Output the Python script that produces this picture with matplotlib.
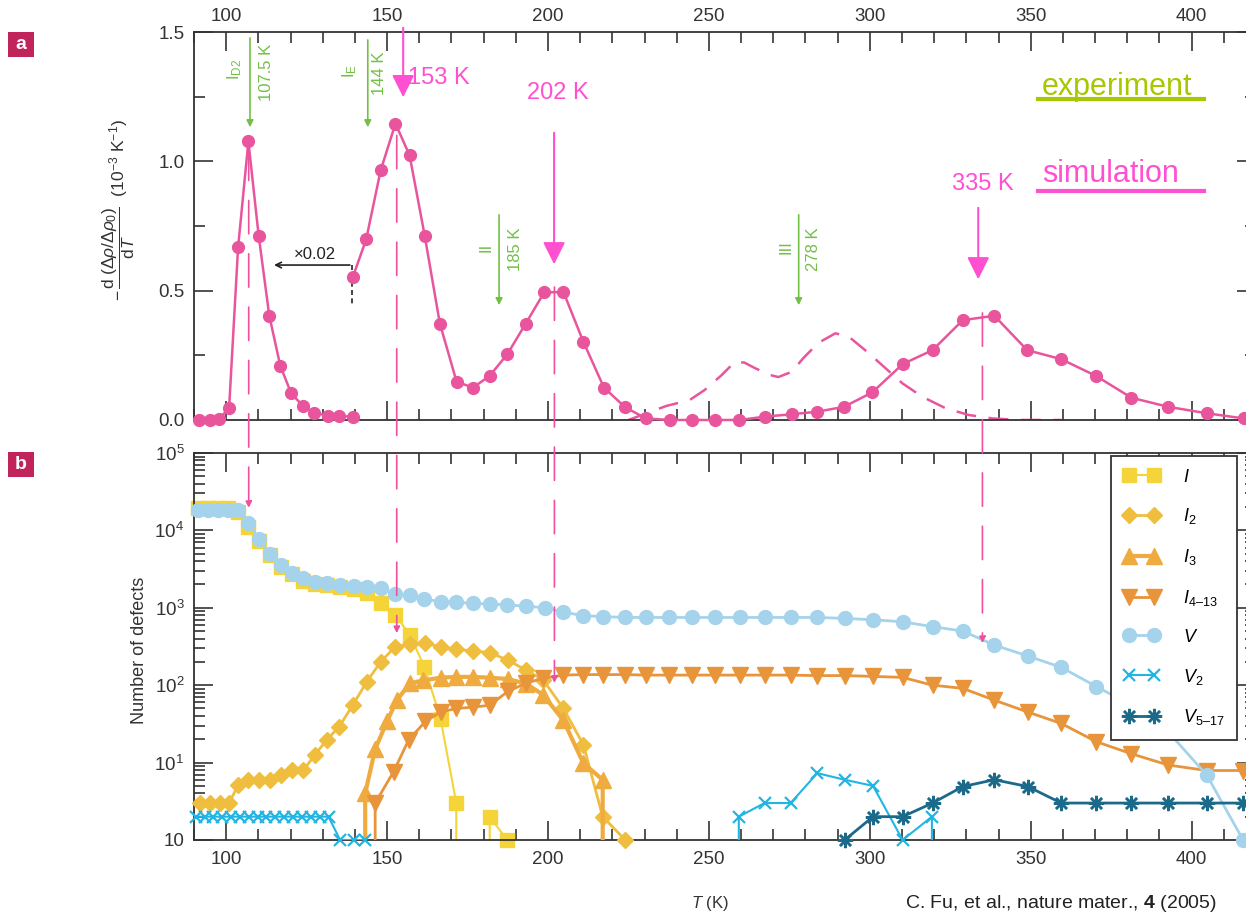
import numpy as np
import matplotlib
matplotlib.use("Agg")
import matplotlib.pyplot as plt
from matplotlib import font_manager
from matplotlib.patches import ConnectionPatch, Rectangle
from matplotlib.lines import Line2D
from matplotlib.ticker import MultipleLocator, FixedLocator, NullFormatter

# ---- panel a: simulated annealing rate, -d(drho/drho0)/dT ----
T_low = [91.6, 94.9, 97.8, 100.9, 103.7, 106.9, 110.1, 113.4, 116.8, 120.2,
         123.8, 127.4, 131.6, 135.2, 139.3]
rate_low = [0.0, 0.0, 0.005, 0.045, 0.667, 1.077, 0.712, 0.403, 0.21, 0.103,
            0.055, 0.028, 0.017, 0.015, 0.013]
T_high = [139.3, 143.5, 148.0, 152.6, 157.0, 161.7, 166.4, 171.6, 176.7, 181.9,
          187.4, 193.1, 198.8, 204.8, 211.0, 217.4, 224.0, 230.4, 237.8, 244.8,
          252.0, 259.5, 267.4, 275.7, 283.7, 292.0, 300.8, 310.2, 319.5, 328.9,
          338.7, 348.9, 359.5, 370.2, 381.3, 392.7, 404.7, 416.2]
rate_high = [0.551, 0.698, 0.965, 1.146, 1.023, 0.712, 0.373, 0.148, 0.125, 0.171,
             0.255, 0.373, 0.493, 0.495, 0.302, 0.125, 0.049, 0.006, 0.0, 0.0,
             0.0, 0.0, 0.013, 0.022, 0.032, 0.051, 0.107, 0.216, 0.27, 0.386,
             0.403, 0.27, 0.235, 0.171, 0.086, 0.051, 0.026, 0.006]
# dashed stage III curve
T_dash = [225, 236.7, 244, 248.7, 254, 258, 261, 264.4, 269, 271.6, 275.7, 279.4,
          284, 289.3, 293.5, 299.7, 304.9, 310.1, 316.3, 323.6, 330.9, 338.2,
          346.5, 359.5]
rate_dash = [0.0, 0.054, 0.077, 0.116, 0.174, 0.224, 0.222, 0.2, 0.174, 0.166,
             0.186, 0.24, 0.298, 0.335, 0.322, 0.258, 0.2, 0.142, 0.09, 0.045,
             0.019, 0.006, 0.0, 0.0]

# ---- panel b: number of defects ----
T_V = [91.3, 94.4, 97.5, 100.6, 103.7, 106.9, 110.3, 113.6, 116.9, 120.3, 124.0,
       127.6, 131.2, 135.4, 139.6, 143.7, 148.1, 152.5, 157.0, 161.6, 166.6, 171.5,
       176.7, 181.9, 187.3, 193.1, 199.1, 204.8, 211.0, 217.2, 224.0, 230.6, 237.5,
       244.8, 252.0, 259.6, 267.3, 275.4, 283.7, 292.2, 301.0, 310.2, 319.5, 328.9,
       338.7, 349.1, 359.5, 370.4, 381.3, 392.7, 404.7, 416.0]
n_V = [18300, 18300, 18300, 18300, 18300, 12300, 7670, 5000, 3570, 2840, 2400,
       2170, 2070, 1970, 1910, 1870, 1780, 1510, 1460, 1300, 1200, 1180,
       1140, 1120, 1090, 1050, 1000, 880, 790, 770, 750, 750, 750,
       750, 750, 750, 750, 750, 750, 730, 700, 660, 570, 500,
       330, 238, 170, 96, 55, 25, 6.9, 1]
T_I = [91.3, 94.4, 97.5, 100.6, 103.7, 106.9, 110.3, 113.6, 116.9, 120.3, 124.0,
       127.6, 131.2, 135.4, 139.6, 143.7, 148.1, 152.5, 157.0, 161.6, 166.6, 171.5,
       176.7, 181.9, 187.3, 193.1]
n_I = [19500, 19500, 19500, 19500, 17500, 11000, 7300, 4800, 3400, 2700, 2250,
       2050, 1950, 1850, 1750, 1550, 1140, 810, 450, 173, 37, 3,
       0, 2, 1, 0]
T_I2 = [91.8, 94.9, 98.0, 100.9, 103.7, 106.9, 110.3, 113.6, 116.9, 120.3, 124.0,
        127.6, 131.2, 135.1, 139.3, 143.7, 148.0, 152.5, 157.0, 161.7, 166.6, 171.5,
        176.7, 181.9, 187.5, 193.1, 198.5, 204.8, 211.0, 217.0, 224.0]
n_I2 = [3.0, 3.0, 3.0, 3.0, 5.1, 6.0, 6.0, 6.0, 6.9, 8.0, 8.0,
        12.6, 19.6, 29, 55, 111, 200, 314, 340, 347, 314, 290,
        277, 263, 211, 157, 117, 50, 17, 2.0, 1.0]
T_I3 = [139.6, 143.2, 146.3, 150.0, 153.0, 157.2, 161.2, 166.6, 171.5, 176.7, 181.9,
        187.5, 193.1, 198.5, 204.8, 211.0, 217.0, 222.0]
n_I3 = [0, 4.0, 15, 34, 64, 106, 115, 125, 128, 128, 125,
        120, 105, 75, 35, 9.8, 6, 0]
T_I413 = [143.7, 146.3, 152.0, 156.7, 161.9, 166.6, 171.5, 176.7, 181.9, 187.5,
          193.1, 198.5, 204.8, 211.0, 217.0, 224.0, 230.6, 237.5, 244.8, 252.0,
          259.6, 267.3, 275.4, 283.7, 292.2, 301.0, 310.2, 319.5, 328.9, 338.7,
          349.1, 359.5, 370.4, 381.3, 392.7, 404.7, 416.0]
n_I413 = [0, 3.0, 7.6, 19.6, 34, 45, 50, 52, 55, 83,
          106, 123, 135, 137, 137, 137, 135, 135, 135, 135,
          135, 135, 135, 133, 133, 130, 126, 100, 91, 64,
          45, 32, 18.6, 13, 9.3, 7.9, 7.9]
T_V2 = [90.5, 93.3, 96.0, 98.8, 101.5, 104.3, 107.0, 109.8, 112.5, 115.3, 118.0,
        120.8, 123.5, 126.3, 129.0, 131.8, 135.4, 139.6, 143.1, 146.5, 252.0,
        259.3, 267.3, 275.4, 283.7, 292.2, 301.0, 310.2, 319.3, 324.0]
n_V2 = [2, 2, 2, 2, 2, 2, 2, 2, 2, 2, 2,
        2, 2, 2, 2, 2, 1, 1, 1, 0, 0,
        2, 3, 3, 7.3, 6, 5, 1, 2, 0]
T_V517 = [292.2, 301.0, 310.2, 319.5, 328.9, 338.7, 349.1, 359.5, 370.4, 381.3,
          392.7, 404.7, 416.0]
n_V517 = [1, 2, 2, 3, 4.9, 6, 4.9, 3, 3, 3, 3, 3, 3]

# ---- style ----
names = {f.name for f in font_manager.fontManager.ttflist}
narrow = "Liberation Sans Narrow" if "Liberation Sans Narrow" in names else "Liberation Sans"
plt.rcParams["font.family"] = [narrow, "DejaVu Sans"]
plt.rcParams["mathtext.fontset"] = "custom"
plt.rcParams["mathtext.rm"] = narrow
plt.rcParams["mathtext.it"] = narrow + ":italic"
plt.rcParams["mathtext.bf"] = "Liberation Sans:bold"

axis_c = "#333333"
curve_c = "#e9559d"
pink = "#ff50d2"
green = "#72c045"
c_I, c_I2, c_I3, c_I413 = "#f5d439", "#f0be3e", "#efab40", "#e8943a"
c_V, c_V2, c_V517 = "#a5d3ec", "#22b5e3", "#1b6a8a"

fig = plt.figure(figsize=(12.46, 9.17), dpi=100)
ax1 = fig.add_axes([0.1557, 0.542, 0.8523, 0.4231])
ax2 = fig.add_axes([0.1557, 0.084, 0.8523, 0.422])


def style_axis(ax):
    for s in ax.spines.values():
        s.set_color(axis_c)
        s.set_linewidth(1.3)
    ax.tick_params(which="both", direction="in", top=True, right=True,
                   color=axis_c, width=1.2, labelsize=13.5, labelcolor=axis_c)
    ax.tick_params(which="major", length=14)
    ax.tick_params(which="minor", length=8)
    ax.xaxis.set_major_locator(MultipleLocator(50))
    ax.xaxis.set_minor_locator(MultipleLocator(10))
    ax.set_xlim(90, 420)


# panel a
style_axis(ax1)
ax1.set_ylim(0, 1.5)
ax1.yaxis.set_major_locator(MultipleLocator(0.5))
ax1.yaxis.set_minor_locator(MultipleLocator(0.25))
ax1.tick_params(axis="x", labeltop=True, labelbottom=False, pad=5)
ax1.tick_params(axis="y", pad=7)

ax1.plot(T_dash, rate_dash, color=curve_c, lw=1.8, ls=(0, (8, 5)))
ax1.plot(T_low, rate_low, color=curve_c, lw=1.8, marker="o", ms=8.5, clip_on=False, zorder=3)
ax1.plot(T_high, rate_high, color=curve_c, lw=1.8, marker="o", ms=8.5, clip_on=False, zorder=3)

# experiment arrows (green)
for T, y0, y1, lab, val, dx1, dx2 in [
    (107.4, 1.488, 1.121, r"I$_{\rm D2}$", "107.5 K", -4.9, 5.0),
    (144.0, 1.480, 1.121, r"I$_{\rm E}$", "144 K", -5.7, 3.7),
    (184.8, 0.804, 0.433, "II", "185 K", -4.0, 5.1),
    (277.9, 0.804, 0.433, "III", "278 K", -3.8, 4.7),
]:
    ax1.annotate("", xy=(T, y1), xytext=(T, y0),
                 arrowprops=dict(arrowstyle="-|>", color=green, lw=1.2, mutation_scale=10))
    yc = (y0 + y1) / 2
    ax1.text(T + dx1, yc + 0.05, lab, color=green, rotation=90, ha="center", va="center", fontsize=12)
    ax1.text(T + dx2, yc + 0.04, val, color=green, rotation=90, ha="center", va="center", fontsize=12)

# simulation arrows (pink)
for T, y0, y1 in [(155.0, 1.527, 1.237), (201.9, 1.121, 0.591), (333.7, 0.831, 0.533)]:
    ax1.annotate("", xy=(T, y1), xytext=(T, y0), annotation_clip=False,
                 arrowprops=dict(arrowstyle="-|>", color=pink, lw=1.5, mutation_scale=34))
ax1.text(156.4, 1.322, "153 K", color=pink, fontsize=17, family="Liberation Sans", va="center")
ax1.text(203.0, 1.264, "202 K", color=pink, fontsize=17, family="Liberation Sans", va="center", ha="center")
ax1.text(335.0, 0.912, "335 K", color=pink, fontsize=17, family="Liberation Sans", va="center", ha="center")

# x0.02 marker
ax1.annotate("", xy=(114.0, 0.599), xytext=(139.3, 0.599),
             arrowprops=dict(arrowstyle="->", color="#222222", lw=1.2))
ax1.plot([139.0, 139.0], [0.599, 0.445], color="#222222", lw=1.2, ls=(0, (3, 2)))
ax1.text(127.7, 0.64, "\u00d70.02", fontsize=12, ha="center", va="center", color="#222222")

# panel b
style_axis(ax2)
ax2.set_yscale("log")
ax2.set_ylim(1, 1e5)
ax2.yaxis.set_major_locator(FixedLocator([1, 10, 100, 1e3, 1e4, 1e5]))
ax2.set_yticklabels(["10", "10$^1$", "10$^2$", "10$^3$", "10$^4$", "10$^5$"])
ax2.yaxis.set_minor_locator(FixedLocator([m * 10.0 ** e for e in range(5) for m in range(2, 10)]))
ax2.yaxis.set_minor_formatter(NullFormatter())
ax2.tick_params(axis="x", pad=8)
ax2.tick_params(axis="y", pad=7)


def draw_series(T, n, color, marker, ms, lw, label, z, mew=1.0):
    T = np.array(T)
    n = np.array(n, dtype=float)
    ax2.plot(T, n, color=color, lw=lw, zorder=z)
    pos = n > 0
    ax2.plot(T[pos], n[pos], ls="none", marker=marker, ms=ms, color=color,
             mec=color, mew=mew, clip_on=False, zorder=z)
    return Line2D([], [], color=color, lw=lw, marker=marker, ms=ms, mec=color,
                  mew=mew, label=label)


handles = [
    draw_series(T_I, n_I, c_I, "s", 10, 1.5, "$I$", 2),
    draw_series(T_I2, n_I2, c_I2, "D", 8.5, 2.0, "$I_2$", 3),
    draw_series(T_I3, n_I3, c_I3, "^", 11, 3.0, "$I_3$", 4),
    draw_series(T_I413, n_I413, c_I413, "v", 11, 2.0, "$I_{4\u201313}$", 4.5),
    draw_series(T_V, n_V, c_V, "o", 10, 2.0, "$V$", 5),
    draw_series(T_V2, n_V2, c_V2, "x", 8, 1.5, "$V_2$", 5, mew=1.6),
    draw_series(T_V517, n_V517, c_V517, (8, 2, 0), 11, 2.0, "$V_{5\u201317}$", 5, mew=1.8),
]
leg = ax2.legend(handles=handles, loc="upper right", bbox_to_anchor=(0.982, 0.992),
                 borderaxespad=0, numpoints=2, handlelength=2.0, handletextpad=1.3,
                 labelspacing=1.15, borderpad=0.7, fancybox=False, framealpha=1,
                 edgecolor=axis_c, fontsize=13)
leg.get_frame().set_linewidth(1.3)
leg.set_zorder(10)

# dashed guide lines from panel a into panel b
for T, ytop, ytip in [(107.0, 1.055, 1.95e4), (153.0, 1.10, 470), (202.0, 0.514, 107), (335.0, 0.414, 350)]:
    con = ConnectionPatch(xyA=(T, ytop), coordsA=ax1.transData, xyB=(T, ytip),
                          coordsB=ax2.transData, arrowstyle="-|>", mutation_scale=9,
                          color="#ee4f9e", lw=1.2, linestyle=(0, (20, 12)))
    fig.add_artist(con)

# labels
fig.text(0.095, 0.771,
         r"$-\,\dfrac{\mathrm{d}\;(\Delta\rho/\Delta\rho_0)}{\mathrm{d}T}$  (10$^{-3}$ K$^{-1}$)",
         rotation=90, ha="center", va="center", fontsize=12.5, color=axis_c)
fig.text(0.112, 0.291, "Number of defects", rotation=90, ha="center", va="center",
         fontsize=13, color=axis_c)
fig.text(0.57, 0.015, "$T$ (K)", ha="center", va="center", fontsize=12, color=axis_c)

# experiment / simulation key
fig.text(1042 / 1246, 1 - 95 / 917, "experiment", color="#a6c800", fontsize=22,
         family="Liberation Sans", va="baseline")
fig.text(1042 / 1246, 1 - 182 / 917, "simulation", color=pink, fontsize=22,
         family="Liberation Sans", va="baseline")
fig.add_artist(Line2D([1038 / 1246, 1204 / 1246], [1 - 99 / 917] * 2, color="#a6c800",
                      lw=3, transform=fig.transFigure))
fig.add_artist(Line2D([1038 / 1246, 1204 / 1246], [1 - 190.5 / 917] * 2, color=pink,
                      lw=3, transform=fig.transFigure))

# panel badges
for lab, ytop in [("a", 32), ("b", 452)]:
    fig.add_artist(Rectangle((8 / 1246, 1 - (ytop + 25) / 917), 26 / 1246, 25 / 917,
                             transform=fig.transFigure, fc="#c1245a", ec="none"))
    fig.text(21 / 1246, 1 - (ytop + 12.5) / 917, lab, color="white", fontweight="bold",
             family="Liberation Sans", fontsize=14, ha="center", va="center")

fig.text(905 / 1246, 1 - 908 / 917, r"C. Fu, et al., nature mater., $\mathbf{4}$ (2005)",
         family="Liberation Sans", fontsize=14, va="baseline", color="#222222")

fig.savefig("out.png", dpi=100)
